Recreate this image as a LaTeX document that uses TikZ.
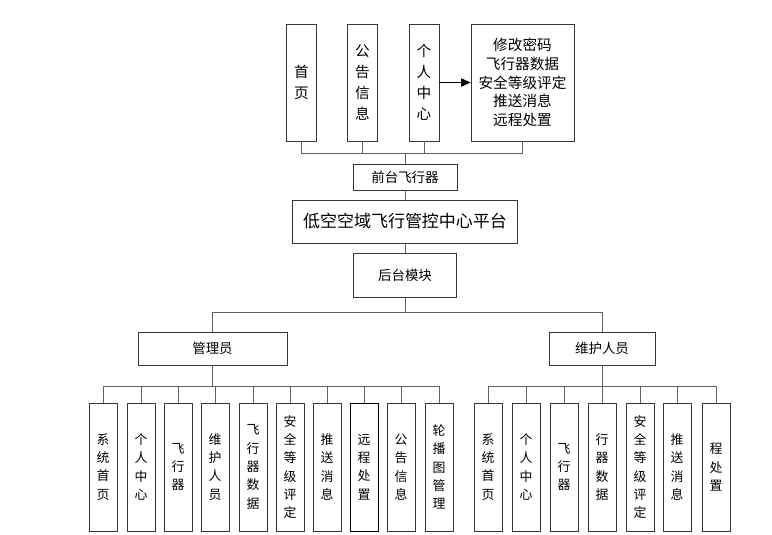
\documentclass[tikz,border=0pt]{standalone}
\usepackage{fontspec}
\setmainfont{Noto Sans CJK SC}
\usetikzlibrary{arrows.meta}
\definecolor{boxline}{RGB}{55,55,55}
\definecolor{linkline}{RGB}{95,95,95}
\tikzset{box/.style={draw=boxline,line width=.7pt,inner sep=1pt,align=center},
 topbox/.style={box,minimum width=.88cm,minimum height=3.51cm,font=\fontsize{12.5}{18}\selectfont},
 leafbox/.style={box,minimum width=.84cm,minimum height=3.84cm,font=\fontsize{11}{15.6}\selectfont},
 midbox/.style={box,font=\fontsize{11.5}{14}\selectfont},
 link/.style={draw=linkline,line width=.7pt}}

\begin{document}
\begin{tikzpicture}[x=0.03cm,y=-0.03cm]
\useasboundingbox (0,0) rectangle (772,535);
% front end
\node[topbox] (home) at (301.5,82.5) {首\\页};
\node[topbox] (notice) at (362.5,82.5) {公\\告\\信\\息};
\node[topbox,minimum width=.9cm] (personal) at (424,82.5) {个\\人\\中\\心};
\node[topbox,minimum width=3.09cm,font=\fontsize{12.5}{16}\selectfont] (funcs) at (522.5,82.5) {修改密码\\飞行器数据\\安全等级评定\\推送消息\\远程处置};
\draw[link,-{Triangle[length=8pt,width=7pt]},draw=black,fill=black] (personal.east) -- (funcs.west);
\node[midbox,minimum width=3.12cm,minimum height=.78cm] (front) at (405,177) {前台飞行器};
\node[box,minimum width=6.75cm,minimum height=1.29cm,font=\fontsize{14.5}{16}\selectfont] (platform) at (405,221.5) {低空空域飞行管控中心平台};
\node[midbox,minimum width=3.09cm,minimum height=1.32cm] (back) at (405,275) {后台模块};
\coordinate (topbus) at (405,153);
\draw[link] (home.south) |- (topbus);
\draw[link] (notice.south) |- (topbus);
\draw[link] (personal.south) |- (topbus);
\draw[link] (funcs.south) |- (topbus) -- (front.north);
\draw[link] (front.south) -- (platform.north);
\draw[link] (platform.south) -- (back.north);
% back end
\node[midbox,minimum width=4.47cm,minimum height=.99cm] (admin) at (212.5,348.5) {管理员};
\node[midbox,minimum width=3.18cm,minimum height=.99cm] (maint) at (602,348.5) {维护人员};
\coordinate (backbus) at (405,312);
\draw[link] (back.south) -- (backbus);
\draw[link] (admin.north) |- (backbus);
\draw[link] (maint.north) |- (backbus);
% admin leaves
\node[leafbox] (a1) at (103,467) {系\\统\\首\\页};
\node[leafbox] (a2) at (141,467) {个\\人\\中\\心};
\node[leafbox] (a3) at (178,467) {飞\\行\\器};
\node[leafbox] (a4) at (215,467) {维\\护\\人\\员};
\node[leafbox] (a5) at (253,467) {飞\\行\\器\\数\\据};
\node[leafbox] (a6) at (290,467) {安\\全\\等\\级\\评\\定};
\node[leafbox] (a7) at (327,467) {推\\送\\消\\息};
\node[leafbox,draw=black] (a8) at (364,467) {远\\程\\处\\置};
\node[leafbox] (a9) at (401,467) {公\\告\\信\\息};
\node[leafbox] (a10) at (439,467) {轮\\播\\图\\管\\理};
\coordinate (adminbus) at (212.5,386);
\draw[link] (admin.south) -- (adminbus);
\draw[link] (a1.north) |- (adminbus);
\draw[link] (a2.north) |- (adminbus);
\draw[link] (a3.north) |- (adminbus);
\draw[link] (a4.north) |- (adminbus);
\draw[link] (a5.north) |- (adminbus);
\draw[link] (a6.north) |- (adminbus);
\draw[link] (a7.north) |- (adminbus);
\draw[link] (a8.north) |- (adminbus);
\draw[link] (a9.north) |- (adminbus);
\draw[link] (a10.north) |- (adminbus);
% maintenance leaves
\node[leafbox] (m1) at (488,467) {系\\统\\首\\页};
\node[leafbox] (m2) at (526,467) {个\\人\\中\\心};
\node[leafbox] (m3) at (564,467) {飞\\行\\器};
\node[leafbox] (m4) at (602,467) {行\\器\\数\\据};
\node[leafbox] (m5) at (640,467) {安\\全\\等\\级\\评\\定};
\node[leafbox] (m6) at (677,467) {推\\送\\消\\息};
\node[leafbox] (m7) at (716,467) {程\\处\\置};
\coordinate (maintbus) at (602,386);
\draw[link] (maint.south) -- (maintbus);
\draw[link] (m1.north) |- (maintbus);
\draw[link] (m2.north) |- (maintbus);
\draw[link] (m3.north) |- (maintbus);
\draw[link] (m4.north) |- (maintbus);
\draw[link] (m5.north) |- (maintbus);
\draw[link] (m6.north) |- (maintbus);
\draw[link] (m7.north) |- (maintbus);
\end{tikzpicture}
\end{document}
